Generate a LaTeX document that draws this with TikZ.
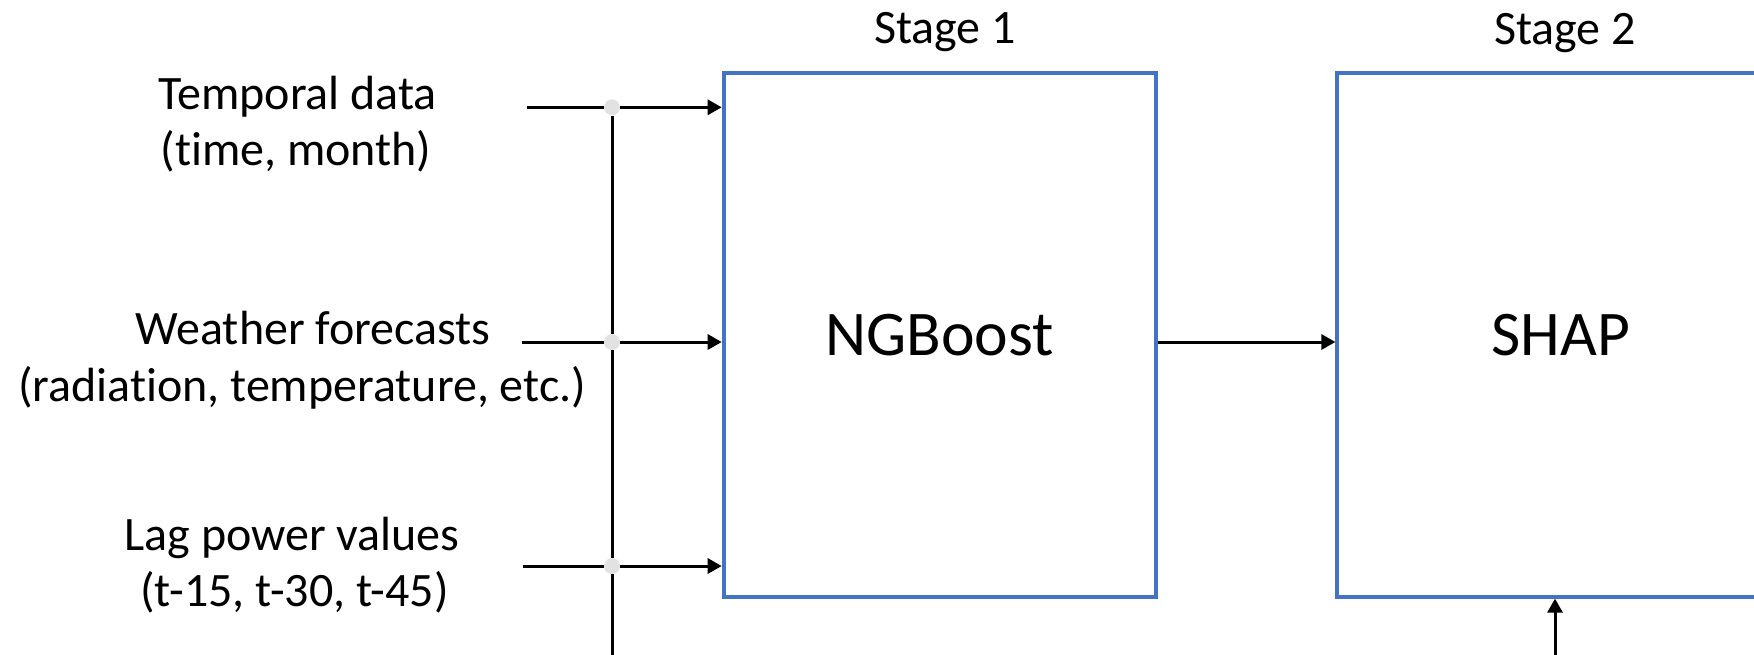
\documentclass[tikz,border=0pt]{standalone}
\usepackage{fontspec}
\setmainfont{Carlito}[Ligatures=NoCommon]
\usetikzlibrary{arrows.meta}
\definecolor{boxblue}{HTML}{4472C4}
\definecolor{dotgray}{HTML}{E2E2E2}
\begin{document}
\begin{tikzpicture}[x=0.5pt,y=-0.5pt,
  lbl/.style={font=\fontsize{24}{28}\selectfont, anchor=base, inner sep=0pt},
  stagebox/.style={draw=boxblue, line width=1.9pt, font=\fontsize{31.8}{38}\selectfont, inner sep=0pt},
  conn/.style={line width=1.5pt, black},
  arr/.style={conn, -{Triangle[length=7pt,width=7.5pt]}},
  junction/.style={circle, fill=dotgray, inner sep=0pt, minimum size=8pt}]
\useasboundingbox (0,0) rectangle (1754,654);
\clip (0,0) rectangle (1754,654);

% boxes
\node[stagebox, minimum width=216pt, minimum height=261.7pt] (ngb) at (939.6,335) {NGBoost};
\node[stagebox, minimum width=223.7pt, minimum height=261.7pt] (shap) at (1561,335) {SHAP};

% stage titles
\node[lbl] (st1) at (945,43.5) {Stage 1};
\node[lbl] (st2) at (1565,44) {Stage 2};

% input labels
\node[lbl] (l1a) at (297.5,109) {Temporal data};
\node[lbl] (l1b) at (296,165) {(time, month)};
\node[lbl] (l2a) at (313,344) {Weather forecasts};
\node[lbl] (l2b) at (302,401) {(radiation, temperature, etc.)};
\node[lbl] (l3a) at (292,550) {Lag power values};
\node[lbl] (l3b) at (294.5,606.5) {(t-15, t-30, t-45)};

% connector ends
\coordinate (s1) at (527,107.3);
\coordinate (s2) at (521.7,342);
\coordinate (s3) at (523,566);
\coordinate (vb) at (612,670);
\coordinate (ub) at (1555,670);

% junction dots
\node[junction] (d1) at (612,107.3) {};
\node[junction] (d2) at (612,342) {};
\node[junction] (d3) at (612,566) {};

% connectors
\draw[conn] (s1) -- (d1);
\draw[conn] (s2) -- (d2);
\draw[conn] (s3) -- (d3);
\draw[arr] (d1) -- (d1 -| ngb.west);
\draw[arr] (d2) -- (d2 -| ngb.west);
\draw[arr] (d3) -- (d3 -| ngb.west);
\draw[conn] (d1) -- (d2) -- (d3) -- (vb);
\draw[arr] (ngb.east |- d2) -- (shap.west |- d2);
\draw[arr] (ub) -- (ub |- shap.south);
\end{tikzpicture}
\end{document}
